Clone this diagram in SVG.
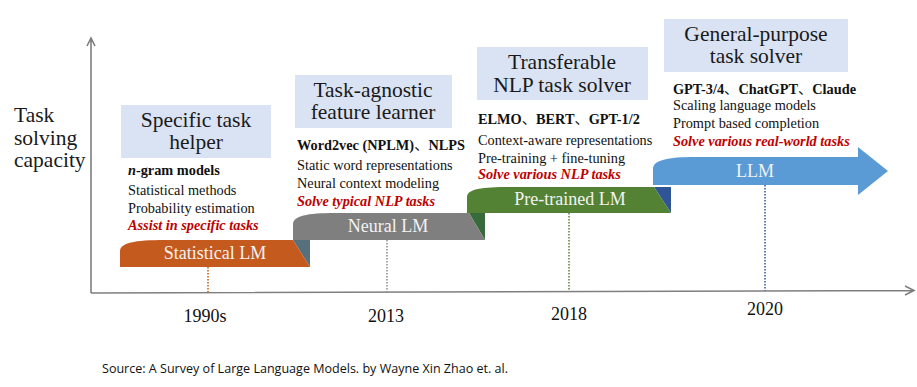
<svg xmlns="http://www.w3.org/2000/svg" width="917" height="387" viewBox="0 0 917 387">
<style>
.serif{font-family:"Liberation Serif","Times New Roman",Tinos,serif;}
.cjk{font-family:"Noto Sans CJK SC","Noto Sans CJK JP",sans-serif;font-weight:normal;}
.hdr{font-size:21.5px;fill:#1a1a1a;text-anchor:middle;}
.box{fill:#DAE3F3;}
.li{font-size:14.3px;fill:#111;}
.b{font-weight:bold;}
.red{fill:#C00000;font-weight:bold;font-style:italic;}
.band{font-size:18px;fill:#F2F2F2;text-anchor:middle;}
.yr{font-size:18px;fill:#111;text-anchor:middle;}
.ylab{font-size:21.5px;fill:#1a1a1a;}
.axis{stroke:#7F7F7F;stroke-width:1.6;fill:none;}
.dot{stroke-width:1.5;stroke-dasharray:1.5 1.5;fill:none;}
</style>
<rect width="917" height="387" fill="#fff"/>
<g id="axes">
<path class="axis" d="M91,293 V38 M87,46 L91,38 L95,46"/>
<path class="axis" d="M91,293 L914,290.5 M905,286 L914,290.5 L905,295"/>
<text class="serif ylab" x="14" y="122">Task</text>
<text class="serif ylab" x="14" y="145">solving</text>
<text class="serif ylab" x="14" y="167">capacity</text>
</g>
<g id="connectors">
<path class="dot" stroke="#C55A11" d="M208,267 V293"/>
<path class="dot" stroke="#8C8C8C" d="M387,240 V292.5"/>
<path class="dot" stroke="#548235" d="M569,213 V291"/>
<path class="dot" stroke="#2F5597" d="M765,185 V290.5"/>
</g>
<g id="statistical-lm">
<polygon points="293,240 310,240 310,267" fill="#56707C"/>
<path d="M120,267 V251 C120,243 134,240 165,240 H293 L310,267 Z" fill="#C55A1E"/>
<text class="serif band" x="215" y="259">Statistical LM</text>
</g>
<g id="neural-lm">
<polygon points="469,213 485,213 485,240" fill="#376B3B"/>
<path d="M293,240 V224 C293,216 307,213 335,213 H469 L485,240 Z" fill="#7F7F7F"/>
<text class="serif band" x="388" y="232">Neural LM</text>
</g>
<g id="pretrained-lm">
<polygon points="654,187 671,187 671,213" fill="#2F5597"/>
<path d="M467,213 V197 C467,189 482,187 510,187 H654 L671,213 Z" fill="#548235"/>
<text class="serif band" x="570" y="205">Pre-trained LM</text>
</g>
<g id="llm">
<path d="M653,185 V169 C653,160 668,157 695,157 H858 V147 L888,171 L858,195 V185 Z" fill="#5B9BD5"/>
<text class="serif band" x="755" y="177">LLM</text>
</g>
<g id="stage1">
<rect class="box" x="121" y="105" width="150" height="53"/>
<text class="serif hdr" x="196" y="127">Specific task</text>
<text class="serif hdr" x="196" y="149">helper</text>
<text class="serif li b" x="128" y="175"><tspan font-style="italic">n</tspan>-gram models</text>
<text class="serif li" x="128" y="195">Statistical methods</text>
<text class="serif li" x="128" y="213">Probability estimation</text>
<text class="serif li red" x="128" y="230">Assist in specific tasks</text>
</g>
<g id="stage2">
<rect class="box" x="295" y="75" width="157" height="53"/>
<text class="serif hdr" x="373" y="97">Task-agnostic</text>
<text class="serif hdr" x="373" y="119">feature learner</text>
<text class="serif li b" x="297" y="150">Word2vec (NPLM)<tspan class="cjk">、</tspan>NLPS</text>
<text class="serif li" x="297" y="170">Static word representations</text>
<text class="serif li" x="297" y="188">Neural context modeling</text>
<text class="serif li red" x="297" y="206">Solve typical NLP tasks</text>
</g>
<g id="stage3">
<rect class="box" x="477" y="47" width="171" height="53"/>
<text class="serif hdr" x="562" y="69">Transferable</text>
<text class="serif hdr" x="562" y="92">NLP task solver</text>
<text class="serif li b" x="478" y="124">ELMO<tspan class="cjk">、</tspan>BERT<tspan class="cjk">、</tspan>GPT-1/2</text>
<text class="serif li" x="478" y="145">Context-aware representations</text>
<text class="serif li" x="478" y="163">Pre-training + fine-tuning</text>
<text class="serif li red" x="478" y="179">Solve various NLP tasks</text>
</g>
<g id="stage4">
<rect class="box" x="664" y="19" width="184" height="53"/>
<text class="serif hdr" x="756" y="41">General-purpose</text>
<text class="serif hdr" x="756" y="63">task solver</text>
<text class="serif li b" x="673" y="94">GPT-3/4<tspan class="cjk">、</tspan>ChatGPT<tspan class="cjk">、</tspan>Claude</text>
<text class="serif li" x="673" y="110">Scaling language models</text>
<text class="serif li" x="673" y="128">Prompt based completion</text>
<text class="serif li red" x="673" y="146">Solve various real-world tasks</text>
</g>
<g id="years">
<text class="serif yr" x="205" y="322">1990s</text>
<text class="serif yr" x="386" y="322">2013</text>
<text class="serif yr" x="569" y="320">2018</text>
<text class="serif yr" x="765" y="315">2020</text>
</g>
<text x="102" y="373" font-family="'Open Sans','Liberation Sans',sans-serif" font-size="12.5" fill="#111" textLength="406" lengthAdjust="spacingAndGlyphs">Source: A Survey of Large Language Models. by Wayne Xin Zhao et. al.</text>
</svg>
